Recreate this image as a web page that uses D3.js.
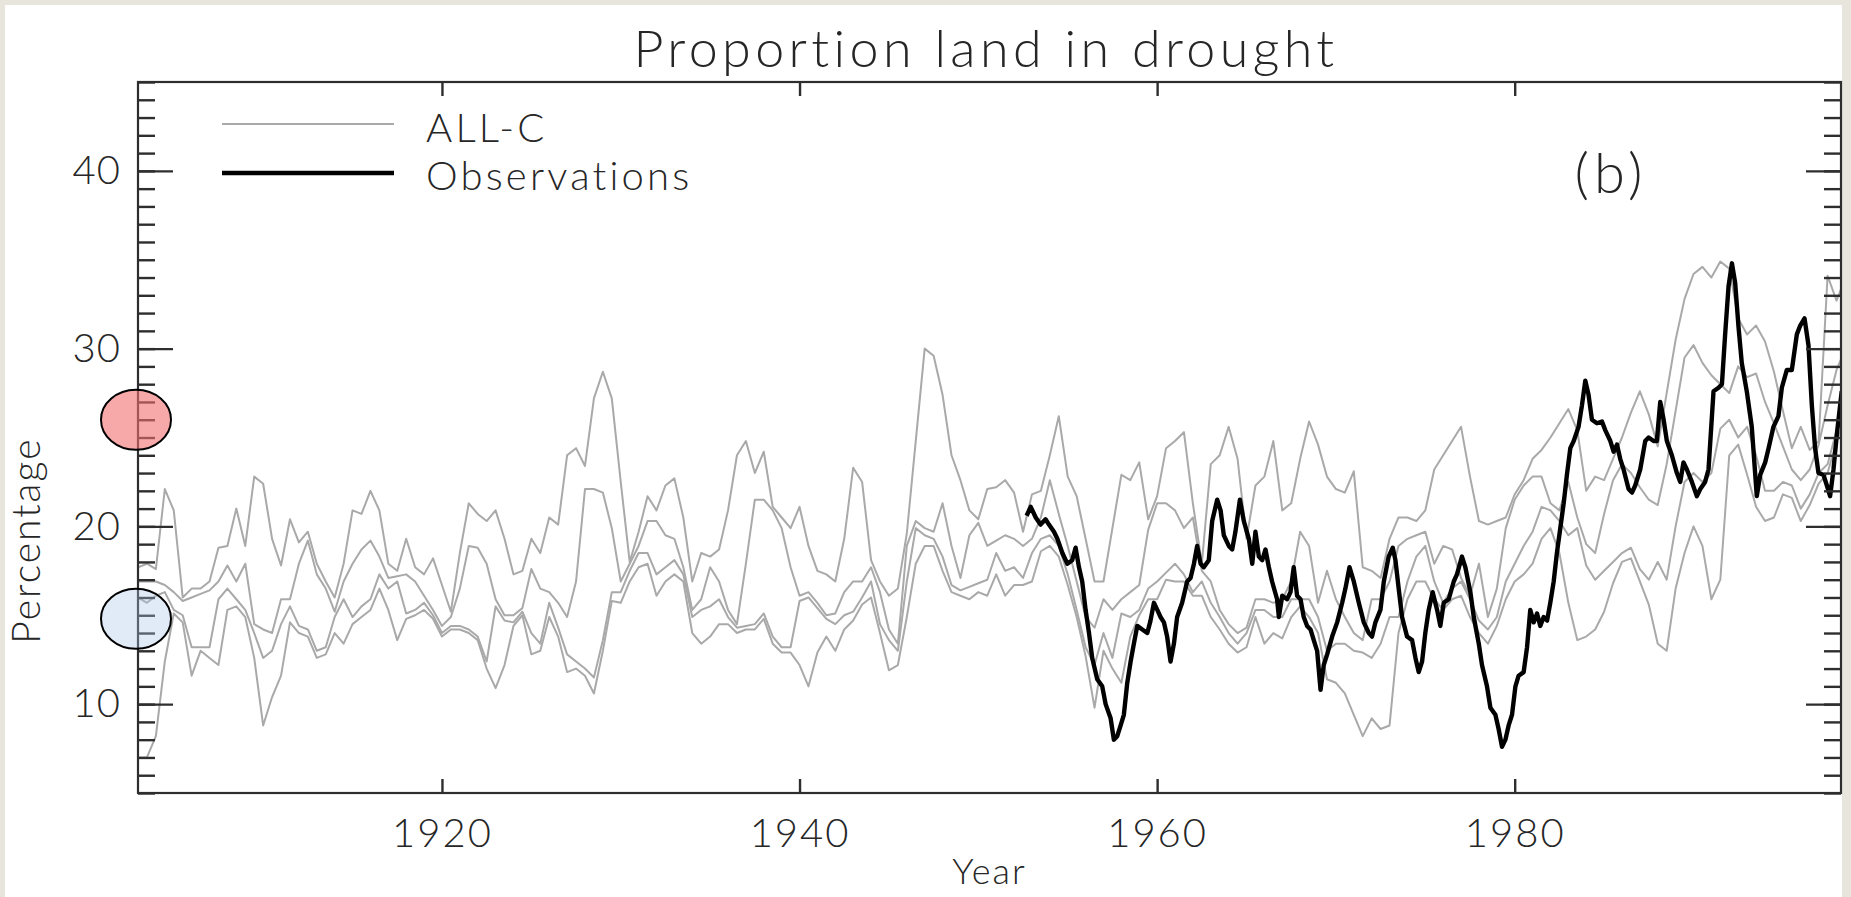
<!DOCTYPE html>
<html>
<head>
<meta charset="utf-8">
<script src="https://cdn.jsdelivr.net/npm/d3@7"></script>
<style>
  html, body { margin: 0; padding: 0; background: #e8e6dc; }
  svg { display: block; }
  text { font-family: Lato, "DejaVu Sans", sans-serif; font-weight: 300; fill: #262626; }
</style>
</head>
<body>
<svg id="chart" width="1851" height="897"></svg>
<script>
// ---- data -------------------------------------------------------------
// ALL-C ensemble: half-yearly values (percentage of land in drought),
// starting at modelStart with a step of modelStep years.
const modelStart = 1903.0;
const modelStep = 0.5;

const allcRun1 = [
  17.7, 17.9, 17.6, 22.1, 20.9, 16.0, 16.5, 16.5, 16.9, 18.8,
  18.9, 21.0, 18.9, 22.8, 22.4, 19.3, 17.8, 20.4, 19.1, 19.7,
  17.9, 16.9, 16.0, 17.9, 20.9, 20.7, 22.0, 20.9, 17.9, 17.5,
  19.3, 17.7, 17.3, 18.2, 16.7, 15.2, 18.5, 21.3, 20.7, 20.3,
  20.9, 19.3, 17.3, 17.5, 19.3, 18.5, 20.5, 20.1, 24.0, 24.4,
  23.4, 27.2, 28.7, 27.2, 22.5, 18.0, 19.7, 21.7, 20.9, 22.3,
  22.7, 20.5, 16.9, 18.5, 18.3, 18.7, 20.9, 24.0, 24.8, 23.0,
  24.2, 21.1, 20.5, 19.9, 21.1, 18.9, 17.5, 17.3, 16.9, 19.3,
  23.3, 22.5, 18.1, 16.9, 16.1, 16.5, 19.6, 24.8, 30.0, 29.6,
  27.4, 24.0, 22.6, 20.9, 20.4, 22.1, 22.2, 22.6, 21.9, 19.7,
  21.8, 22.0, 24.0, 26.2, 22.8, 21.7, 19.3, 16.9, 16.9, 19.9,
  22.9, 22.6, 23.6, 20.4, 21.7, 24.4, 24.8, 25.3, 21.3, 17.9,
  23.5, 24.0, 25.6, 23.8, 19.3, 22.3, 22.8, 24.8, 20.9, 21.3,
  23.8, 25.9, 24.6, 22.8, 22.1, 21.9, 23.1, 17.7, 17.5, 17.1,
  19.3, 20.5, 20.5, 20.3, 20.9, 23.2, 24.0, 24.8, 25.6, 22.8,
  20.3, 20.1, 20.3, 20.5, 21.8, 22.6, 23.8, 24.3, 25.0, 25.8,
  26.6, 25.4, 22.0, 22.8, 22.6, 23.8, 25.0, 26.4, 27.6, 26.3,
  24.5, 27.5, 30.5, 32.8, 34.2, 34.6, 34.0, 34.9, 34.5, 31.7,
  30.8, 31.3, 30.4, 28.7, 26.5, 24.4, 25.6, 24.3, 24.8, 34.1,
  32.7, 34.0
];

const allcRun2 = [
  16.9, 16.9, 16.9, 16.7, 16.3, 15.8, 16.0, 16.2, 16.4, 16.9,
  17.8, 16.9, 17.9, 14.5, 14.2, 14.0, 15.9, 15.9, 17.9, 19.2,
  17.3, 16.5, 15.2, 16.9, 17.9, 18.7, 19.2, 18.3, 17.1, 17.2,
  17.3, 16.9, 16.1, 15.3, 14.4, 14.9, 16.5, 18.9, 18.8, 17.9,
  15.9, 15.0, 15.0, 15.4, 17.6, 16.5, 16.3, 15.7, 14.9, 16.9,
  22.1, 22.1, 21.9, 19.9, 16.9, 17.9, 18.9, 20.3, 20.3, 19.5,
  19.3, 17.7, 15.3, 15.9, 17.7, 16.9, 15.3, 14.5, 17.9, 21.5,
  21.5, 20.9, 19.9, 17.7, 16.1, 16.3, 15.7, 15.0, 15.1, 16.3,
  16.9, 16.9, 17.7, 16.3, 14.2, 13.4, 18.9, 20.3, 19.9, 19.7,
  21.3, 18.9, 17.1, 19.5, 20.2, 18.9, 19.2, 19.5, 19.3, 18.9,
  19.3, 20.5, 22.6, 20.7, 18.9, 16.9, 14.9, 14.3, 15.9, 15.3,
  15.9, 16.3, 16.7, 19.8, 21.3, 21.3, 20.9, 19.9, 20.5, 17.5,
  16.9, 15.3, 14.5, 14.0, 14.3, 15.9, 15.9, 15.7, 15.9, 16.9,
  19.7, 18.9, 15.7, 17.5, 15.9, 14.9, 14.0, 13.6, 15.9, 15.9,
  16.9, 18.9, 19.3, 19.5, 19.7, 17.9, 18.9, 18.7, 17.1, 16.1,
  17.9, 14.9, 16.5, 19.9, 21.5, 22.3, 22.8, 22.8, 21.3, 20.9,
  22.5, 20.5, 19.0, 18.5, 20.7, 22.6, 23.5, 23.0, 22.2, 21.5,
  21.2, 23.5, 26.5, 29.5, 30.2, 29.2, 28.5, 28.0, 27.5, 29.0,
  28.4, 28.6, 27.0, 25.8, 24.5, 23.2, 22.6, 23.2, 24.6, 26.8,
  28.8, 30.0
];

const allcRun3 = [
  16.0, 15.7, 16.1, 16.3, 15.3, 15.0, 13.2, 13.2, 13.2, 15.9,
  16.5, 15.9, 15.3, 14.0, 12.6, 13.0, 14.5, 15.5, 14.4, 14.2,
  13.0, 13.2, 14.9, 15.9, 14.9, 15.5, 15.9, 17.3, 16.5, 16.9,
  15.1, 15.3, 15.7, 15.0, 14.0, 14.4, 14.4, 14.2, 13.8, 12.4,
  15.5, 14.7, 14.6, 15.2, 14.0, 13.4, 15.7, 14.3, 12.8, 12.4,
  12.0, 11.5, 13.6, 16.3, 16.3, 17.5, 18.5, 18.5, 17.3, 17.7,
  18.1, 17.3, 14.9, 15.3, 15.5, 15.9, 14.9, 14.3, 14.4, 14.5,
  15.1, 13.8, 13.2, 13.2, 15.8, 16.0, 15.4, 14.8, 14.5, 15.0,
  15.2, 16.0, 16.9, 14.5, 13.6, 13.0, 16.9, 19.9, 19.5, 19.3,
  18.3, 16.7, 16.4, 16.6, 16.8, 17.0, 18.5, 17.5, 17.7, 17.1,
  18.5, 19.3, 19.5, 18.9, 17.3, 15.3, 13.2, 12.2, 14.0, 12.6,
  15.1, 14.9, 15.3, 16.5, 16.9, 17.4, 17.9, 17.3, 16.3, 16.9,
  15.7, 14.9, 14.0, 13.4, 14.0, 15.3, 15.3, 14.9, 14.9, 15.9,
  15.9, 15.9, 14.9, 13.0, 13.4, 13.4, 13.0, 12.9, 12.6, 13.4,
  14.9, 14.9, 16.9, 18.3, 18.9, 16.9, 15.7, 16.5, 16.9, 15.9,
  14.7, 14.2, 14.9, 16.9, 17.9, 18.9, 19.7, 21.1, 20.9, 20.3,
  19.5, 19.9, 17.8, 17.0, 17.5, 18.0, 18.5, 18.8, 17.6, 17.0,
  18.0, 17.0, 20.0, 22.5, 23.0, 22.5, 23.0, 25.5, 26.0, 25.0,
  25.6, 24.0, 22.0, 22.0, 22.5, 22.3, 21.0, 21.8, 23.0, 23.5,
  25.4, 26.5
];

const allcRun4 = [
   7.0,  7.0,  8.2, 12.4, 15.1, 14.6, 11.6, 13.0, 12.6, 12.2,
  15.3, 15.5, 14.9, 12.6,  8.8, 10.4, 11.6, 14.6, 14.0, 13.8,
  12.6, 12.8, 14.0, 13.4, 14.5, 14.9, 15.3, 16.5, 15.3, 13.6,
  14.8, 15.0, 15.3, 14.8, 13.8, 14.2, 14.2, 14.0, 13.6, 12.0,
  10.9, 12.2, 14.4, 15.0, 12.8, 13.0, 14.9, 13.8, 11.8, 12.0,
  11.6, 10.6, 13.0, 15.8, 15.7, 16.9, 17.7, 17.9, 16.1, 16.9,
  17.3, 16.9, 14.0, 13.4, 13.8, 14.5, 14.5, 14.0, 14.2, 14.2,
  14.8, 13.4, 12.9, 12.9, 12.2, 11.0, 12.9, 13.8, 13.0, 14.2,
  14.7, 15.6, 16.0, 14.0, 11.9, 12.2, 14.9, 17.9, 18.9, 18.9,
  17.5, 16.3, 16.1, 15.9, 16.3, 16.1, 17.3, 16.1, 16.7, 16.7,
  16.9, 18.6, 18.9, 18.3, 16.7, 14.9, 12.7,  9.8, 13.0, 12.0,
  11.2, 13.8, 15.0, 15.9, 15.9, 17.0, 16.9, 16.9, 16.1, 16.1,
  14.9, 14.2, 13.4, 12.9, 13.2, 14.9, 13.4, 14.0, 13.7, 14.9,
  15.5, 14.9, 14.0, 11.4, 11.2, 10.6,  9.4,  8.2,  9.2,  8.6,
   8.8, 14.0, 15.9, 16.9, 16.9, 15.9, 15.3, 15.9, 16.1, 14.9,
  14.0, 13.4, 14.4, 15.9, 16.9, 17.3, 17.9, 19.3, 19.9, 18.5,
  15.7, 13.6, 13.8, 14.2, 15.2, 16.8, 18.0, 18.2, 16.9, 15.6,
  13.4, 13.0, 16.5, 18.5, 20.0, 18.9, 15.9, 17.0, 24.0, 24.6,
  22.9, 21.1, 20.3, 20.5, 21.8, 21.6, 20.3, 21.2, 22.4, 23.0,
  24.8, 26.0
];

// Observations (year, percentage)
const obsYears = [
  1952.70, 1952.93, 1953.21, 1953.48, 1953.76, 1953.95, 1954.23, 1954.42, 1954.70, 1954.98,
  1955.25, 1955.44, 1955.63, 1955.81, 1956.00, 1956.19, 1956.37, 1956.65, 1956.93, 1957.12,
  1957.40, 1957.58, 1957.77, 1957.96, 1958.14, 1958.33, 1958.52, 1958.70, 1958.89, 1959.17,
  1959.45, 1959.63, 1959.82, 1960.01, 1960.19, 1960.38, 1960.56, 1960.75, 1960.94, 1961.12,
  1961.40, 1961.68, 1961.87, 1962.06, 1962.24, 1962.43, 1962.61, 1962.89, 1963.08, 1963.36,
  1963.55, 1963.73, 1964.01, 1964.20, 1964.38, 1964.63, 1964.85, 1965.13, 1965.32, 1965.50,
  1965.69, 1965.88, 1966.06, 1966.25, 1966.43, 1966.71, 1966.81, 1967.00, 1967.27, 1967.46,
  1967.64, 1967.83, 1968.02, 1968.20, 1968.39, 1968.58, 1968.76, 1968.95, 1969.14, 1969.32,
  1969.51, 1969.79, 1970.07, 1970.35, 1970.53, 1970.76, 1971.00, 1971.28, 1971.56, 1971.84,
  1972.02, 1972.21, 1972.49, 1972.68, 1972.95, 1973.18, 1973.33, 1973.51, 1973.70, 1973.98,
  1974.26, 1974.45, 1974.63, 1974.82, 1975.00, 1975.19, 1975.41, 1975.66, 1975.84, 1976.03,
  1976.31, 1976.59, 1976.77, 1977.05, 1977.24, 1977.52, 1977.71, 1977.99, 1978.17, 1978.45,
  1978.64, 1978.92, 1979.10, 1979.29, 1979.48, 1979.66, 1979.85, 1980.04, 1980.22, 1980.50,
  1980.69, 1980.87, 1981.06, 1981.25, 1981.43, 1981.62, 1981.81, 1981.99, 1982.18, 1982.36,
  1982.55, 1982.74, 1982.92, 1983.11, 1983.30, 1983.57, 1983.76, 1983.95, 1984.13, 1984.32,
  1984.60, 1984.88, 1985.07, 1985.35, 1985.53, 1985.72, 1985.90, 1986.09, 1986.37, 1986.56,
  1986.74, 1987.02, 1987.30, 1987.49, 1987.77, 1987.95, 1988.14, 1988.33, 1988.51, 1988.79,
  1989.07, 1989.26, 1989.44, 1989.63, 1989.91, 1990.19, 1990.38, 1990.65, 1990.84, 1991.12,
  1991.40, 1991.59, 1991.77, 1991.96, 1992.15, 1992.33, 1992.52, 1992.70, 1992.98, 1993.26,
  1993.54, 1993.73, 1994.01, 1994.20, 1994.47, 1994.75, 1994.94, 1995.22, 1995.50, 1995.78,
  1995.97, 1996.21, 1996.43, 1996.62, 1996.80, 1996.99, 1997.27, 1997.46, 1997.64, 1997.83,
  1998.02, 1998.20, 1998.29
];
const obsValues = [
  20.6, 21.1, 20.5, 20.1, 20.4, 20.1, 19.7, 19.3, 18.5, 17.9,
  18.1, 18.8, 17.7, 16.9, 15.3, 14.0, 12.6, 11.4, 11.0, 10.0,
   9.2,  8.0,  8.2,  8.8,  9.4, 11.2, 12.4, 13.4, 14.4, 14.2,
  14.0, 14.7, 15.7, 15.3, 14.9, 14.6, 13.8, 12.4, 13.4, 14.9,
  15.7, 16.9, 17.1, 17.9, 18.9, 17.9, 17.7, 18.1, 20.3, 21.5,
  20.9, 19.5, 18.9, 18.7, 19.7, 21.5, 20.3, 19.3, 17.9, 19.7,
  18.3, 18.1, 18.7, 17.7, 16.9, 15.9, 14.9, 16.1, 15.9, 16.3,
  17.7, 16.1, 15.9, 14.9, 14.4, 14.2, 13.6, 13.0, 10.8, 12.2,
  12.8, 13.8, 14.6, 15.7, 16.5, 17.7, 16.9, 15.7, 14.6, 14.0,
  13.8, 14.6, 15.3, 16.9, 18.3, 18.8, 18.1, 16.5, 14.9, 13.8,
  13.6, 12.6, 11.8, 12.4, 14.0, 15.3, 16.3, 15.3, 14.4, 15.7,
  15.9, 16.9, 17.3, 18.3, 17.7, 16.3, 14.9, 13.4, 12.2, 11.0,
   9.8,  9.4,  8.6,  7.6,  8.0,  8.8,  9.4, 11.0, 11.6, 11.8,
  13.2, 15.3, 14.6, 15.1, 14.4, 14.9, 14.7, 15.7, 16.9, 18.5,
  19.9, 21.3, 22.9, 24.4, 24.8, 25.6, 26.8, 28.2, 27.4, 26.0,
  25.8, 25.9, 25.4, 24.8, 24.2, 24.6, 23.8, 23.2, 22.1, 21.9,
  22.3, 23.2, 24.8, 25.0, 24.8, 24.8, 27.0, 26.0, 24.8, 24.0,
  23.0, 22.5, 23.6, 23.2, 22.5, 21.7, 22.1, 22.5, 23.2, 27.6,
  27.8, 28.0, 30.8, 33.5, 34.8, 33.7, 31.2, 29.2, 27.6, 25.6,
  21.7, 22.9, 23.6, 24.4, 25.6, 26.2, 27.8, 28.8, 28.8, 30.8,
  31.3, 31.7, 30.2, 26.8, 24.4, 23.0, 22.9, 22.3, 21.7, 23.2,
  25.2, 26.8, 27.6
];

// Axis ticks and labels
const xTickYears = [1920, 1940, 1960, 1980];
const yTickLabels = [10, 20, 30, 40];
const yMinorValues = [5, 6, 7, 8, 9, 10, 11, 12, 13, 14, 15, 16, 17, 18, 19, 20, 21, 22, 23, 24, 25,
                      26, 27, 28, 29, 30, 31, 32, 33, 34, 35, 36, 37, 38, 39, 40, 41, 42, 43, 44, 45];

// Legend entries and highlighted levels on the vertical axis
const legendLabels = ["ALL-C", "Observations"];
const markerLevels = [26, 14.8];
const markerFills = ["rgba(242,110,110,0.6)", "rgba(170,195,232,0.35)"];

// ---- layout -----------------------------------------------------------
const W = 1851, H = 897;
const plot = { left: 138, right: 1841, top: 82, bottom: 793 };

const svg = d3.select("#chart");

// white sheet over the beige page
svg.append("rect")
  .attr("x", 5).attr("y", 5)
  .attr("width", plot.right - 5 + 1).attr("height", H - 5)
  .attr("fill", "#ffffff");

const x = d3.scaleLinear().domain([1903, 1998.25]).range([plot.left, plot.right]);
const y = d3.scaleLinear().domain([5, 45]).range([plot.bottom, plot.top]);

svg.append("defs").append("clipPath").attr("id", "plotClip")
  .append("rect")
  .attr("x", plot.left).attr("y", plot.top)
  .attr("width", plot.right - plot.left).attr("height", plot.bottom - plot.top);

// ---- series -------------------------------------------------------------
const modelLine = d3.line()
  .x((d, i) => x(modelStart + i * modelStep))
  .y(d => y(d));

const lines = svg.append("g").attr("clip-path", "url(#plotClip)");

[allcRun1, allcRun2, allcRun3, allcRun4].forEach(run => {
  lines.append("path")
    .datum(run)
    .attr("d", modelLine)
    .attr("fill", "none")
    .attr("stroke", "#a9a9a9")
    .attr("stroke-width", 2)
    .attr("stroke-linejoin", "round");
});

const obs = obsYears.map((yr, i) => [yr, obsValues[i]]);
lines.append("path")
  .datum(obs)
  .attr("d", d3.line().x(d => x(d[0])).y(d => y(d[1])))
  .attr("fill", "none")
  .attr("stroke", "#000000")
  .attr("stroke-width", 4.4)
  .attr("stroke-linejoin", "round");

// ---- axes ---------------------------------------------------------------
const axisColor = "#2e2e2e";
function styleAxis(g) {
  g.select(".domain").remove();
  g.selectAll(".tick line").attr("stroke", axisColor).attr("stroke-width", 2.4);
}

const yMajorLen = 35, yMinorLen = 17, xTickLen = 14;

// left (ticks point inward)
svg.append("g").attr("transform", `translate(${plot.left},0)`)
  .call(d3.axisRight(y).tickValues(yMinorValues).tickSize(yMinorLen).tickFormat(""))
  .call(styleAxis);
svg.append("g").attr("transform", `translate(${plot.left},0)`)
  .call(d3.axisRight(y).tickValues(yTickLabels).tickSize(yMajorLen).tickFormat(""))
  .call(styleAxis);
// right
svg.append("g").attr("transform", `translate(${plot.right},0)`)
  .call(d3.axisLeft(y).tickValues(yMinorValues).tickSize(yMinorLen).tickFormat(""))
  .call(styleAxis);
svg.append("g").attr("transform", `translate(${plot.right},0)`)
  .call(d3.axisLeft(y).tickValues(yTickLabels).tickSize(yMajorLen).tickFormat(""))
  .call(styleAxis);
// bottom & top
svg.append("g").attr("transform", `translate(0,${plot.bottom})`)
  .call(d3.axisTop(x).tickValues(xTickYears).tickSize(xTickLen).tickFormat(""))
  .call(styleAxis);
svg.append("g").attr("transform", `translate(0,${plot.top})`)
  .call(d3.axisBottom(x).tickValues(xTickYears).tickSize(xTickLen).tickFormat(""))
  .call(styleAxis);

// tick labels
const yLab = svg.append("g").attr("transform", `translate(${plot.left},0)`)
  .call(d3.axisLeft(y).tickValues(yTickLabels).tickSize(0).tickPadding(17).tickFormat(d3.format("d")));
yLab.select(".domain").remove();
yLab.selectAll("text").style("font-size", "40px").style("font-family", null)
  .attr("letter-spacing", 1).attr("fill", "#262626");

const xLab = svg.append("g").attr("transform", `translate(0,${plot.bottom})`)
  .call(d3.axisBottom(x).tickValues(xTickYears).tickSize(0).tickPadding(26).tickFormat(d3.format("d")));
xLab.select(".domain").remove();
xLab.selectAll("text").style("font-size", "40px").style("font-family", null)
  .attr("letter-spacing", 2).attr("fill", "#262626");

// frame
svg.append("rect")
  .attr("x", plot.left).attr("y", plot.top)
  .attr("width", plot.right - plot.left).attr("height", plot.bottom - plot.top)
  .attr("fill", "none").attr("stroke", axisColor).attr("stroke-width", 2.2);

// ---- titles -------------------------------------------------------------
svg.append("text")
  .attr("x", 986).attr("y", 67)
  .attr("text-anchor", "middle")
  .attr("letter-spacing", 4.4)
  .style("font-size", "52px")
  .text("Proportion land in drought");

svg.append("text")
  .attr("x", (plot.left + plot.right) / 2).attr("y", 884)
  .attr("text-anchor", "middle")
  .attr("letter-spacing", 2)
  .style("font-size", "36px")
  .text("Year");

svg.append("text")
  .attr("transform", `translate(40,${y(19.2)}) rotate(-90)`)
  .attr("text-anchor", "middle")
  .attr("letter-spacing", 2)
  .style("font-size", "39px")
  .text("Percentage");

svg.append("text")
  .attr("x", 1611).attr("y", 193)
  .attr("text-anchor", "middle")
  .attr("letter-spacing", 5)
  .style("font-size", "56px")
  .text("(b)");

// ---- legend -------------------------------------------------------------
const legend = svg.append("g");
const legendStyles = [
  { stroke: "#a9a9a9", width: 2, lineY: 124, textY: 142 },
  { stroke: "#000000", width: 4.6, lineY: 173, textY: 190 }
];
legendLabels.forEach((label, i) => {
  const s = legendStyles[i];
  legend.append("line")
    .attr("x1", 222).attr("x2", 394)
    .attr("y1", s.lineY).attr("y2", s.lineY)
    .attr("stroke", s.stroke).attr("stroke-width", s.width);
  legend.append("text")
    .attr("x", 426).attr("y", s.textY)
    .attr("letter-spacing", 3.2)
    .style("font-size", "40px")
    .text(label);
});

// ---- highlighted levels on the left axis ----------------------------------
markerLevels.forEach((lvl, i) => {
  svg.append("ellipse")
    .attr("cx", plot.left - 2).attr("cy", y(lvl))
    .attr("rx", 35).attr("ry", 30)
    .attr("fill", markerFills[i])
    .attr("stroke", "#000").attr("stroke-width", 2);
});
</script>
</body>
</html>
